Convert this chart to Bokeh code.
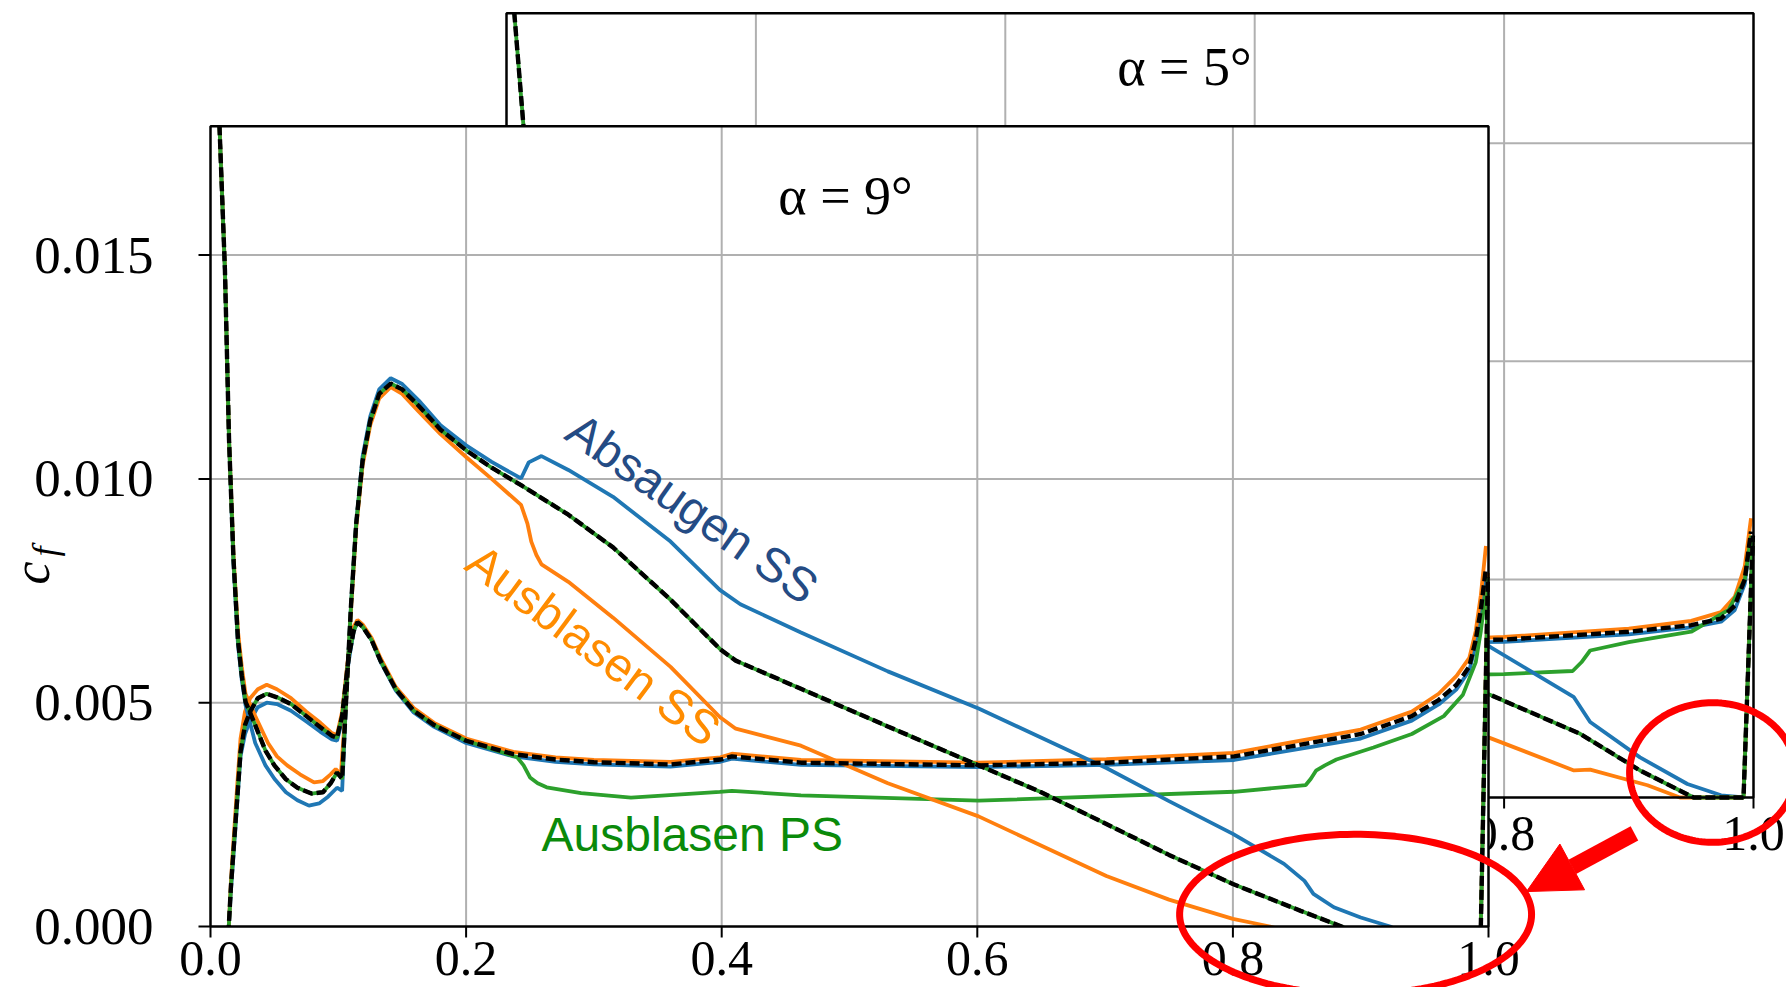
import numpy as np
from bokeh.plotting import figure
from bokeh.models import Range1d, Arrow, NormalHead, PolyAnnotation
from bokeh.core.properties import value
from bokeh.embed import file_html
from bokeh.resources import INLINE

# ===================== DATA =====================
# ---------- front panel: alpha = 9 deg ----------
xlim9 = (0.0, 1.0)
ylim9 = (0.0, 0.01788)
xticks9 = [0.0, 0.2, 0.4, 0.6, 0.8, 1.0]
xticklabels9 = ["0.0", "0.2", "0.4", "0.6", "0.8", "1.0"]
yticks9 = [0.0, 0.005, 0.010, 0.015]
yticklabels9 = ["0.000", "0.005", "0.010", "0.015"]
grid_x = [0.2, 0.4, 0.6, 0.8]
grid_y = [0.005, 0.010, 0.015]

# (x/c, cf) pairs -- suction side (SS), reference (black dashed); "Ausblasen PS" coincides
ss9_ref = [(0.007, 0.0179), (0.0113, 0.01466), (0.0145, 0.01088), (0.018, 0.0082), (0.0215, 0.0064),
           (0.0245, 0.0056), (0.0274, 0.00502), (0.035, 0.0045), (0.043, 0.00393), (0.05, 0.0036),
           (0.059, 0.00329), (0.068, 0.0031), (0.079, 0.00297), (0.088, 0.0030), (0.094, 0.0032),
           (0.099, 0.00344), (0.103, 0.0033), (0.106, 0.0050), (0.110, 0.0072), (0.114, 0.0090),
           (0.119, 0.0104), (0.125, 0.0113), (0.132, 0.0119), (0.141, 0.01213), (0.15, 0.0120),
           (0.163, 0.01163), (0.18, 0.0111), (0.2, 0.01064), (0.22, 0.01025), (0.243, 0.00986),
           (0.28, 0.0092), (0.315, 0.00847), (0.36, 0.0073), (0.399, 0.00619), (0.411, 0.00594),
           (0.462, 0.00531), (0.53, 0.00447), (0.601, 0.0036), (0.65, 0.0030), (0.696, 0.00236),
           (0.75, 0.0016), (0.8, 0.00095), (0.853, 0.00035), (0.885, 0.0), (0.92, -0.0004),
           (0.99, -0.0005), (0.994, 0.0), (0.9995, 0.0078)]
# SS, Absaugen SS (blue)
ss9_suc = [(0.007, 0.0179), (0.0113, 0.01466), (0.0145, 0.01088), (0.018, 0.0081), (0.0215, 0.0063),
           (0.0245, 0.0055), (0.0274, 0.00495), (0.035, 0.0041), (0.043, 0.0036), (0.05, 0.0033),
           (0.059, 0.0030), (0.068, 0.00282), (0.077, 0.0027), (0.085, 0.00275), (0.092, 0.0029),
           (0.099, 0.0031), (0.103, 0.00303), (0.106, 0.0050), (0.110, 0.0072), (0.114, 0.0090),
           (0.119, 0.0105), (0.125, 0.0114), (0.132, 0.0120), (0.141, 0.01225), (0.15, 0.01212),
           (0.163, 0.01175), (0.18, 0.0112), (0.2, 0.01075), (0.22, 0.01038), (0.243, 0.01001),
           (0.249, 0.01037), (0.259, 0.01051), (0.28, 0.0102), (0.315, 0.0096), (0.36, 0.0086),
           (0.3985, 0.00752), (0.4146, 0.0072), (0.462, 0.00657), (0.53, 0.0057), (0.601, 0.00487),
           (0.701, 0.00354), (0.75, 0.0028), (0.8, 0.00207), (0.84, 0.0014), (0.856, 0.00102),
           (0.863, 0.00073), (0.879, 0.00043), (0.9, 0.0002), (0.923, 0.0), (0.95, -0.0004),
           (0.99, -0.0004), (0.994, 0.0), (0.9995, 0.0077)]
# SS, Ausblasen SS (orange)
ss9_bss = [(0.007, 0.0179), (0.0113, 0.0147), (0.0145, 0.0109), (0.018, 0.0083), (0.0215, 0.0066),
           (0.0245, 0.0058), (0.0274, 0.0052), (0.035, 0.0047), (0.045, 0.0041), (0.052, 0.0038),
           (0.06, 0.0036), (0.07, 0.0034), (0.081, 0.00322), (0.088, 0.00325), (0.094, 0.0034),
           (0.098, 0.00352), (0.102, 0.0034), (0.106, 0.0050), (0.110, 0.0071), (0.114, 0.0089),
           (0.119, 0.0103), (0.125, 0.0112), (0.132, 0.0118), (0.141, 0.01205), (0.15, 0.0119),
           (0.163, 0.0115), (0.18, 0.0110), (0.2, 0.01049), (0.22, 0.0100), (0.243, 0.00942),
           (0.248, 0.0090), (0.251, 0.0086), (0.255, 0.0083), (0.259, 0.00809), (0.28, 0.0077),
           (0.315, 0.0069), (0.36, 0.0058), (0.3985, 0.00468), (0.411, 0.00442), (0.462, 0.00404),
           (0.53, 0.0032), (0.601, 0.00246), (0.701, 0.00113), (0.75, 0.0006), (0.8, 0.00017),
           (0.829, 0.0), (0.88, -0.0004), (0.99, -0.0005), (0.994, 0.0), (0.9995, 0.0079)]
# pressure side (PS), reference (black dashed)
ps9_ref = [(0.013, -0.0005), (0.0143, 0.0), (0.016, 0.0009), (0.018, 0.0017), (0.021, 0.0029),
           (0.0235, 0.0039), (0.027, 0.0045), (0.031, 0.0048), (0.037, 0.0051), (0.044, 0.0052),
           (0.052, 0.00512), (0.063, 0.00497), (0.075, 0.0047), (0.086, 0.00445), (0.095, 0.00426),
           (0.099, 0.00422), (0.103, 0.0047), (0.108, 0.0060), (0.112, 0.0066), (0.115, 0.0068),
           (0.119, 0.0067), (0.126, 0.0064), (0.133, 0.00594), (0.145, 0.0053), (0.159, 0.00482),
           (0.175, 0.0045), (0.2, 0.00415), (0.237, 0.00385), (0.27, 0.00373), (0.3, 0.00367),
           (0.36, 0.00362), (0.399, 0.00373), (0.408, 0.0038), (0.462, 0.00366), (0.601, 0.0036),
           (0.701, 0.00366), (0.801, 0.0038), (0.9, 0.0043), (0.94, 0.0047), (0.961, 0.00506),
           (0.975, 0.0054), (0.985, 0.00581), (0.99, 0.0064), (0.994, 0.00708), (0.998, 0.0080)]
# PS, Absaugen SS (blue)
ps9_suc = [(0.013, -0.0005), (0.0143, 0.0), (0.016, 0.0008), (0.018, 0.0016), (0.021, 0.0028),
           (0.0235, 0.0038), (0.027, 0.0043), (0.031, 0.0046), (0.037, 0.0049), (0.044, 0.0050),
           (0.052, 0.00497), (0.063, 0.00482), (0.075, 0.00458), (0.086, 0.00435), (0.095, 0.00418),
           (0.099, 0.00415), (0.103, 0.0046), (0.108, 0.0059), (0.112, 0.0066), (0.115, 0.0068),
           (0.119, 0.0067), (0.126, 0.0064), (0.133, 0.00592), (0.145, 0.00527), (0.159, 0.00478),
           (0.175, 0.00446), (0.2, 0.0041), (0.237, 0.0038), (0.27, 0.00368), (0.3, 0.00362),
           (0.36, 0.00357), (0.399, 0.00368), (0.408, 0.00375), (0.462, 0.00361), (0.601, 0.00356),
           (0.701, 0.00361), (0.801, 0.00372), (0.9, 0.0042), (0.94, 0.0046), (0.961, 0.00496),
           (0.975, 0.0053), (0.985, 0.00572), (0.99, 0.0063), (0.994, 0.0070), (0.998, 0.0079)]
# PS, Ausblasen SS (orange)
ps9_bss = [(0.013, -0.0005), (0.0143, 0.0), (0.016, 0.0010), (0.018, 0.0019), (0.021, 0.0032),
           (0.0235, 0.0042), (0.027, 0.0048), (0.031, 0.0051), (0.037, 0.0053), (0.044, 0.0054),
           (0.052, 0.0053), (0.063, 0.0051), (0.075, 0.0048), (0.086, 0.00455), (0.095, 0.00432),
           (0.099, 0.00428), (0.103, 0.0048), (0.108, 0.0061), (0.112, 0.0067), (0.115, 0.00685),
           (0.119, 0.00675), (0.126, 0.00645), (0.133, 0.0060), (0.145, 0.00535), (0.159, 0.00488),
           (0.175, 0.00455), (0.2, 0.0042), (0.237, 0.0039), (0.27, 0.00378), (0.3, 0.00372),
           (0.36, 0.00368), (0.399, 0.00378), (0.408, 0.00386), (0.462, 0.00372), (0.601, 0.00366),
           (0.701, 0.00374), (0.801, 0.00388), (0.9, 0.0044), (0.94, 0.0048), (0.961, 0.0052),
           (0.975, 0.0056), (0.985, 0.0060), (0.99, 0.0066), (0.994, 0.0074), (0.998, 0.0085)]
# PS, Ausblasen PS (green)
ps9_bps = [(0.013, -0.0005), (0.0143, 0.0), (0.016, 0.0009), (0.018, 0.0017), (0.021, 0.0029),
           (0.0235, 0.0039), (0.027, 0.0045), (0.031, 0.0048), (0.037, 0.0051), (0.044, 0.0052),
           (0.052, 0.00512), (0.063, 0.00497), (0.075, 0.0047), (0.086, 0.00445), (0.095, 0.00426),
           (0.099, 0.00422), (0.103, 0.0047), (0.108, 0.0060), (0.112, 0.0066), (0.115, 0.0068),
           (0.119, 0.0067), (0.126, 0.0064), (0.133, 0.00594), (0.145, 0.0053), (0.159, 0.00482),
           (0.175, 0.0045), (0.2, 0.00415), (0.225, 0.00392), (0.24, 0.00378), (0.245, 0.0036),
           (0.25, 0.00333), (0.256, 0.0032), (0.263, 0.00311), (0.29, 0.00298), (0.329, 0.00288),
           (0.3985, 0.00301), (0.408, 0.00303), (0.462, 0.00293), (0.601, 0.00281), (0.801, 0.00301),
           (0.857, 0.00316), (0.861, 0.0033), (0.865, 0.00348), (0.872, 0.0036), (0.881, 0.00373),
           (0.91, 0.0040), (0.94, 0.0043), (0.965, 0.0047), (0.98, 0.00518), (0.99, 0.0059),
           (0.994, 0.0066), (0.998, 0.0075)]

# ---------- back panel: alpha = 5 deg (visible parts only) ----------
xlim5 = (0.0, 1.0)
ylim5 = (0.0, 0.01798)
xticks5_visible = [0.8, 1.0]
xticklabels5_visible = ["0.8", "1.0"]
le5 = [(0.0062, 0.0180), (0.0136, 0.0154), (0.018, 0.0110)]
ps5_ref = [(0.78, 0.00361), (0.8, 0.00362), (0.9, 0.0038), (0.95, 0.00395), (0.974, 0.0041),
           (0.985, 0.0044), (0.993, 0.0050), (0.998, 0.0061)]
ps5_bss = [(0.78, 0.00366), (0.8, 0.00368), (0.9, 0.00387), (0.95, 0.00405), (0.974, 0.00425),
           (0.985, 0.0046), (0.993, 0.0053), (0.998, 0.0064)]
ps5_suc = [(0.78, 0.00356), (0.8, 0.00357), (0.9, 0.00374), (0.95, 0.0039), (0.974, 0.00403),
           (0.985, 0.0043), (0.993, 0.0049), (0.998, 0.0060)]
ps5_bps = [(0.78, 0.00282), (0.8, 0.00283), (0.855, 0.0029), (0.862, 0.0031), (0.869, 0.00337),
           (0.9, 0.00356), (0.95, 0.0038), (0.98, 0.0043), (0.993, 0.0050), (0.998, 0.0060)]
ss5_ref = [(0.78, 0.00246), (0.79, 0.00234), (0.861, 0.00146), (0.909, 0.00062), (0.952, 0.0),
           (0.992, 0.0), (0.9995, 0.0060)]
ss5_suc = [(0.78, 0.0036), (0.789, 0.00345), (0.856, 0.0023), (0.869, 0.00173), (0.909, 0.00092),
           (0.947, 0.00031), (0.974, 0.00005), (0.992, 0.0), (0.9995, 0.0060)]
ss5_bss = [(0.78, 0.00146), (0.79, 0.00135), (0.856, 0.00062), (0.869, 0.00064), (0.915, 0.00028),
           (0.941, 0.0), (0.992, 0.0), (0.9995, 0.0060)]

# ---------- red highlight annotations (front-panel data coordinates) ----------
ellipse_cx = [0.896, 1.1753]
ellipse_cy = [0.00027, 0.00344]
ellipse_ax = [0.1377, 0.0649]
ellipse_by = [0.00179, 0.00156]
arrow_from = (1.1142, 0.00208)
arrow_to = (1.0297, 0.00078)

C_BLUE, C_ORANGE, C_GREEN = "#1f77b4", "#ff7f0e", "#2ca02c"
GRID = "#b0b0b0"
SERIF = value("Liberation Serif")
SANS = value("Liberation Sans")


def xy(pairs):
    return [a for a, _ in pairs], [b for _, b in pairs]


# ===================== LAYOUT (pixel geometry of the two panels) =====================
W, H = 1786, 987
F_X0, F_XS = 210.0, 1278.0            # front: pixel of x=0, pixels per unit
F_Y0, F_YS = 926.0, 223.8 / 0.005     # front: pixel of cf=0, pixels per unit
B_X0, B_XS = 506.0, 1247.0            # back panel
B_Y0, B_YS = 797.0, 218.1 / 0.005

p = figure(width=W, height=H,
           x_range=Range1d(-F_X0 / F_XS, (W - F_X0) / F_XS),
           y_range=Range1d((F_Y0 - H) / F_YS, F_Y0 / F_YS),
           output_backend="svg", toolbar_location=None,
           x_axis_location=None, y_axis_location=None,
           min_border_left=0, min_border_right=0, min_border_top=0, min_border_bottom=0,
           outline_line_color=None, background_fill_color="white", border_fill_color="white")
p.extra_x_ranges = {"back": Range1d(-B_X0 / B_XS, (W - B_X0) / B_XS)}
p.extra_y_ranges = {"back": Range1d((B_Y0 - H) / B_YS, B_Y0 / B_YS)}
p.grid.visible = False
BK = dict(x_range_name="back", y_range_name="back")
canvas_bottom = (F_Y0 - H) / F_YS

LW = 3.8
LWD = 4.4
DASH = "10 4"

# ---------------- back panel (alpha = 5 deg) ----------------
p.segment(x0=grid_x, y0=[ylim5[0]] * len(grid_x), x1=grid_x, y1=[ylim5[1]] * len(grid_x),
          line_color=GRID, line_width=2, **BK)
p.segment(x0=[xlim5[0]] * len(grid_y), y0=grid_y, x1=[xlim5[1]] * len(grid_y), y1=grid_y,
          line_color=GRID, line_width=2, **BK)
lx, ly = xy(le5)
p.line(lx, ly, line_color=C_GREEN, line_width=LW, **BK)
p.line(lx, ly, line_color="black", line_width=LWD, line_dash=DASH, **BK)
for pairs, c in [(ps5_suc, C_BLUE), (ps5_bss, C_ORANGE), (ps5_bps, C_GREEN),
                 (ss5_suc, C_BLUE), (ss5_bss, C_ORANGE), (ss5_ref, C_GREEN)]:
    xs, ys = xy(pairs)
    p.line(xs, ys, line_color=c, line_width=LW, **BK)
for pairs in (ps5_ref, ss5_ref):
    xs, ys = xy(pairs)
    p.line(xs, ys, line_color="black", line_width=LWD, line_dash=DASH, **BK)
p.quad(left=[xlim5[0]], right=[xlim5[1]], bottom=[ylim5[0]], top=[ylim5[1]],
       fill_color=None, line_color="black", line_width=2.5, **BK)
p.segment(x0=xticks5_visible, y0=[0.0] * 2, x1=xticks5_visible, y1=[-11 / B_YS] * 2,
          line_color="black", line_width=2, **BK)
p.text(x=xticks5_visible, y=[-36 / B_YS] * 2, text=xticklabels5_visible,
       text_font=SERIF, text_font_size="50px", text_align="center", text_baseline="middle",
       text_color="black", **BK)
p.text(x=[0.5437], y=[(B_Y0 - 66) / B_YS], text=["α = 5°"], text_font=SERIF,
       text_font_size="54px", text_align="center", text_baseline="middle",
       text_color="black", **BK)

# ---------------- front panel (alpha = 9 deg) ----------------
p.quad(left=[xlim9[0]], right=[xlim9[1]], bottom=[ylim9[0]], top=[ylim9[1]],
       fill_color="white", line_color=None)
p.segment(x0=grid_x, y0=[ylim9[0]] * len(grid_x), x1=grid_x, y1=[ylim9[1]] * len(grid_x),
          line_color=GRID, line_width=2)
p.segment(x0=[xlim9[0]] * len(grid_y), y0=grid_y, x1=[xlim9[1]] * len(grid_y), y1=grid_y,
          line_color=GRID, line_width=2)
for pairs, c in [(ps9_suc, C_BLUE), (ps9_bss, C_ORANGE), (ps9_bps, C_GREEN),
                 (ss9_suc, C_BLUE), (ss9_bss, C_ORANGE), (ss9_ref, C_GREEN)]:
    xs, ys = xy(pairs)
    p.line(xs, ys, line_color=c, line_width=LW)
for pairs in (ps9_ref, ss9_ref):
    xs, ys = xy(pairs)
    p.line(xs, ys, line_color="black", line_width=LWD, line_dash=DASH)
# the panel clips its curves at cf = 0: white strip below the front axes
p.quad(left=[xlim9[0] - 0.003], right=[xlim9[1] + 0.003], bottom=[canvas_bottom], top=[ylim9[0]],
       fill_color="white", line_color=None)
p.quad(left=[xlim9[0]], right=[xlim9[1]], bottom=[ylim9[0]], top=[ylim9[1]],
       fill_color=None, line_color="black", line_width=2.5)

# axes of the front panel (ticks and labels through the front scales)
p.segment(x0=[-12 / F_XS] * len(yticks9), y0=yticks9, x1=[0.0] * len(yticks9), y1=yticks9,
          line_color="black", line_width=2)
p.text(x=[-57 / F_XS] * len(yticks9), y=yticks9, text=yticklabels9, text_font=SERIF,
       text_font_size="53px", text_align="right", text_baseline="middle", text_color="black")
p.segment(x0=xticks9, y0=[0.0] * len(xticks9), x1=xticks9, y1=[-11 / F_YS] * len(xticks9),
          line_color="black", line_width=2)
p.text(x=xticks9, y=[-32 / F_YS] * len(xticks9), text=xticklabels9, text_font=SERIF,
       text_font_size="50px", text_align="center", text_baseline="middle", text_color="black")
p.text(x=[(31 - F_X0) / F_XS], y=[(F_Y0 - 572.5) / F_YS], text=["c"], angle=[np.pi / 2],
       text_font=SERIF, text_font_style="italic", text_font_size="52px",
       text_align="center", text_baseline="middle", text_color="black")
p.text(x=[(44 - F_X0) / F_XS], y=[(F_Y0 - 551) / F_YS], text=["f"], angle=[np.pi / 2],
       text_font=SERIF, text_font_style="italic", text_font_size="36px",
       text_align="center", text_baseline="middle", text_color="black")

# curve labels
p.text(x=[0.4969], y=[(F_Y0 - 195) / F_YS], text=["α = 9°"], text_font=SERIF,
       text_font_size="54px", text_align="center", text_baseline="middle", text_color="black")
p.text(x=[0.3772], y=[0.00934], text=["Absaugen SS"], angle=[-0.61], text_font=SANS,
       text_font_size="48px", text_align="center", text_baseline="middle", text_color="#244B84")
p.text(x=[0.2997], y=[0.00628], text=["Ausblasen SS"], angle=[-0.64], text_font=SANS,
       text_font_size="48px", text_align="center", text_baseline="middle", text_color="#FF8C00")
p.text(x=[0.259], y=[(F_Y0 - 834) / F_YS], text=["Ausblasen PS"], text_font=SANS,
       text_font_size="48px", text_align="left", text_baseline="middle", text_color="#0A8A0A")

# ---------------- red highlight annotations ----------------
t = np.linspace(0, 2 * np.pi, 160)
for cx, cy, a, b in zip(ellipse_cx, ellipse_cy, ellipse_ax, ellipse_by):
    p.add_layout(PolyAnnotation(xs=list(cx + a * np.cos(t)), ys=list(cy + b * np.sin(t)),
                                fill_color=None, fill_alpha=0, line_color="red",
                                line_alpha=1.0, line_width=7))
p.add_layout(Arrow(end=NormalHead(size=52, fill_color="red", line_color="red", line_width=1),
                   x_start=arrow_from[0], y_start=arrow_from[1],
                   x_end=arrow_to[0], y_end=arrow_to[1],
                   line_color="red", line_width=16))

open("out.html", "w").write(file_html(p, INLINE))
